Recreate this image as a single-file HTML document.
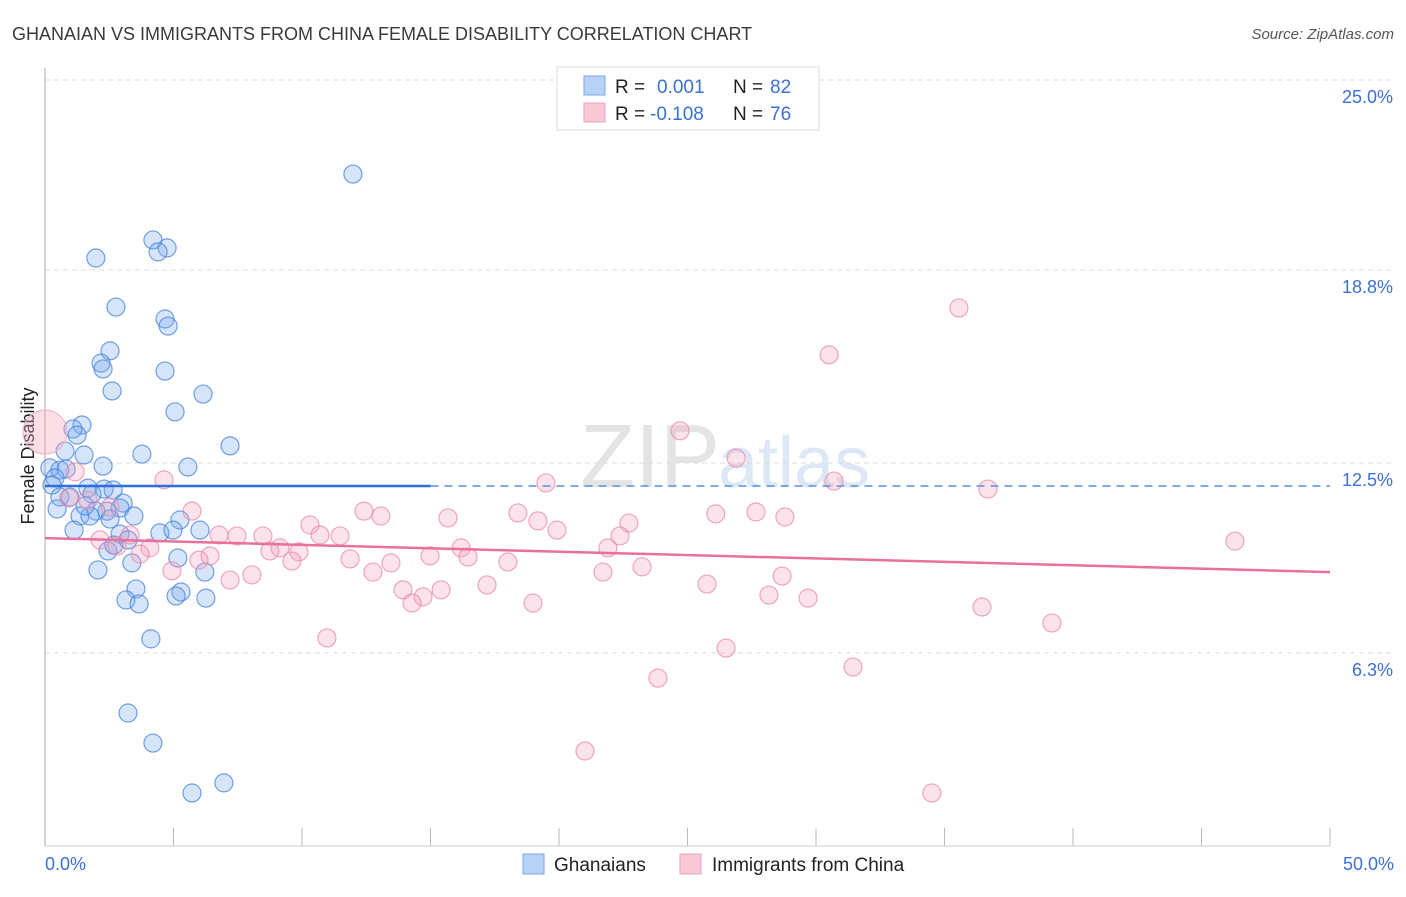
<!DOCTYPE html>
<html><head><meta charset="utf-8"><style>
body{margin:0;background:#fff;font-family:"Liberation Sans",sans-serif;}
svg text{font-family:"Liberation Sans",sans-serif;}
</style></head><body>
<svg id="chart" width="1406" height="892" xmlns="http://www.w3.org/2000/svg">
<text x="12" y="40" font-size="18" fill="#3a3a3a">GHANAIAN VS IMMIGRANTS FROM CHINA FEMALE DISABILITY CORRELATION CHART</text>
<text x="1394" y="39" font-size="15" fill="#555" font-style="italic" text-anchor="end">Source: ZipAtlas.com</text>
<text x="720" y="487" font-size="90" fill="#e4e4e4" text-anchor="end" font-family="Liberation Serif">ZIP</text>
<text x="718" y="487" font-size="72" fill="#dde8f6">atlas</text>
<g id="grid"></g>
<line x1="45" y1="68" x2="45" y2="846" stroke="#aaa"/>
<line x1="45" y1="846" x2="1330" y2="846" stroke="#ccc"/>
<text transform="translate(34,456) rotate(-90)" font-size="18" fill="#222" text-anchor="middle">Female Disability</text>
<text x="45" y="870" font-size="18" fill="#3a70d8">0.0%</text>
<text x="1394" y="870" font-size="18" fill="#3a70d8" text-anchor="end">50.0%</text>
<g id="points"></g>
<g id="trends"></g>
<g>
<rect x="557" y="67" width="262" height="63" fill="#fff" stroke="#ddd"/>
<rect x="584" y="76" width="21" height="19" fill="#b8d2f5" stroke="#7aa8e8"/>
<rect x="584" y="103" width="21" height="19" fill="#f9c9d7" stroke="#eea0b8"/>
<text x="615" y="93" font-size="19" fill="#222">R = </text><text x="657" y="93" font-size="19" fill="#3a70d8">0.001</text>
<text x="733" y="93" font-size="19" fill="#222">N = </text><text x="770" y="93" font-size="19" fill="#3a70d8">82</text>
<text x="615" y="120" font-size="19" fill="#222">R = </text><text x="650" y="120" font-size="19" fill="#3a70d8">-0.108</text>
<text x="733" y="120" font-size="19" fill="#222">N = </text><text x="770" y="120" font-size="19" fill="#3a70d8">76</text>
</g>
<g>
<rect x="523" y="854" width="21" height="20" fill="#b8d2f5" stroke="#7aa8e8"/>
<text x="554" y="871" font-size="19" fill="#222">Ghanaians</text>
<rect x="680" y="854" width="21" height="20" fill="#f9c9d7" stroke="#eea0b8"/>
<text x="712" y="871" font-size="19" fill="#222">Immigrants from China</text>
</g>
</svg>
<script>
const yTicks=[25.0,18.8,12.5,6.3];
const yTickLabels=["25.0%","18.8%","12.5%","6.3%"];
const xTicks=[0,5,10,15,20,25,30,35,40,45,50];
const blueX=[11.98,4.20,4.75,4.40,1.98,2.76,4.67,4.79,2.53,2.18,2.26,4.67,2.61,6.15,5.06,1.44,1.09,1.25,7.20,3.77,1.52,0.78,5.56,2.26,0.19,0.58,0.82,0.39,0.27,1.67,2.30,2.65,0.58,0.97,1.83,3.04,2.92,2.41,1.98,1.36,1.75,3.46,0.47,5.25,6.03,1.13,2.92,4.47,4.98,2.45,2.68,5.17,3.38,2.06,6.22,3.54,5.29,5.10,3.15,3.66,6.26,4.12,3.23,4.20,5.72,6.96,2.53,3.23,1.56];
const blueY=[21.93,19.78,19.52,19.39,19.19,17.59,17.20,16.97,16.16,15.76,15.57,15.50,14.85,14.75,14.17,13.74,13.61,13.41,13.06,12.79,12.76,12.89,12.37,12.40,12.34,12.27,12.30,12.01,11.78,11.68,11.65,11.62,11.39,11.39,11.49,11.19,11.03,10.93,10.93,10.77,10.77,10.77,11.00,10.64,10.31,10.31,10.18,10.22,10.31,9.63,9.82,9.40,9.24,9.01,8.94,8.39,8.29,8.16,8.03,7.90,8.09,6.76,4.34,3.36,1.73,2.06,10.67,9.99,11.10];
const pinkX=[35.56,30.51,24.71,26.89,30.70,19.49,36.69,4.63,46.30,18.40,19.18,19.92,22.72,22.37,26.10,27.66,28.79,15.68,12.41,13.07,10.31,10.70,11.48,5.72,6.77,7.47,8.48,8.75,9.14,9.88,6.42,5.99,4.08,3.70,2.80,2.14,3.31,21.90,16.19,16.46,14.98,13.46,12.76,11.87,9.61,4.94,7.20,8.05,23.23,21.71,18.01,17.20,13.93,14.71,15.41,14.28,18.99,25.76,28.68,28.17,29.69,36.46,39.18,10.97,26.50,31.44,23.85,21.01,34.51,0.93,1.67,2.53,1.17];
const pinkY=[17.56,16.03,13.55,12.66,11.91,11.85,11.65,11.95,9.95,10.87,10.61,10.31,10.54,10.12,10.84,10.90,10.74,10.71,10.93,10.77,10.48,10.15,10.12,10.93,10.15,10.12,10.12,9.63,9.73,9.60,9.47,9.33,9.73,9.53,9.79,9.99,10.15,9.73,9.73,9.43,9.47,9.24,8.94,9.37,9.30,8.98,8.68,8.85,9.11,8.94,9.27,8.52,8.36,8.13,8.36,7.93,7.93,8.55,8.81,8.19,8.09,7.80,7.28,6.79,6.46,5.84,5.48,3.10,1.73,11.36,11.29,11.06,12.21];
const bigPinkX=[0.0], bigPinkY=[13.51];
const blueTrend=[11.75,11.75];
const blueSolidEnd=15;
const pinkTrend=[10.05,8.94];

const NS="http://www.w3.org/2000/svg";
const sx=v=>45+v/50*1285;
const sy=v=>846-v/25*766;
function mk(tag,attrs,parent){const e=document.createElementNS(NS,tag);for(const k in attrs)e.setAttribute(k,attrs[k]);parent.appendChild(e);return e;}
const grid=document.getElementById('grid');
yTicks.forEach((t,i)=>{
  const l=mk('line',{x1:45,x2:1394,y1:sy(t),y2:sy(t),stroke:'#ddd','stroke-dasharray':'5,4'},grid);
  
  
  const tx=mk('text',{x:1393,y:sy(t)+23,'font-size':18,fill:'#3a70d8','text-anchor':'end'},grid);
  tx.textContent=yTickLabels[i];
  
  
});
xTicks.forEach(t=>{
  const l=mk('line',{x1:sx(t),x2:sx(t),y1:828,y2:846,stroke:'#bbb'},grid);
  
  
});
const pts=document.getElementById('points');
blueX.forEach((x,i)=>{
  const c=mk('circle',{cx:sx(x),cy:sy(blueY[i]),r:9,fill:'rgba(120,168,238,0.3)',stroke:'rgba(70,130,220,0.75)','stroke-width':1.2},pts);
  
  
});
pinkX.forEach((x,i)=>{
  const c=mk('circle',{cx:sx(x),cy:sy(pinkY[i]),r:9,fill:'rgba(245,160,185,0.3)',stroke:'rgba(232,140,170,0.75)','stroke-width':1.2},pts);
  
  
});
bigPinkX.forEach((x,i)=>{
  const c=mk('circle',{cx:sx(x),cy:sy(bigPinkY[i]),r:22,fill:'rgba(245,160,185,0.35)',stroke:'#f0b0c4','stroke-width':1},pts);
  
  
});
const tr=document.getElementById('trends');
const bf=x=>blueTrend[0]+(blueTrend[1]-blueTrend[0])*x/50;
let l=mk('line',{x1:sx(0),y1:sy(bf(0)),x2:sx(blueSolidEnd),y2:sy(bf(blueSolidEnd)),stroke:'#2f6fdc','stroke-width':2.5},tr);


l=mk('line',{x1:sx(blueSolidEnd),y1:sy(bf(blueSolidEnd)),x2:sx(50),y2:sy(bf(50)),stroke:'#5a8ee0','stroke-width':1.5,'stroke-dasharray':'8,6'},tr);


l=mk('line',{x1:sx(0),y1:sy(pinkTrend[0]),x2:sx(50),y2:sy(pinkTrend[1]),stroke:'#e8709a','stroke-width':2.5},tr);


</script>
</body></html>
